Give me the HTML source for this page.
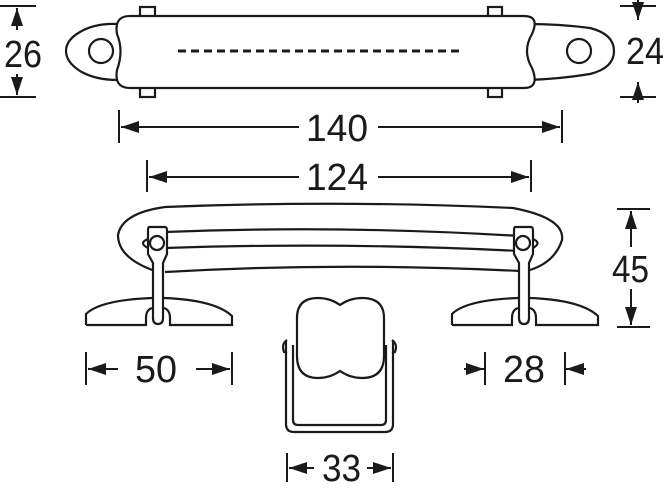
<!DOCTYPE html>
<html><head><meta charset="utf-8"><style>
html,body{margin:0;padding:0;background:#fff;}
svg{display:block;}
text{font-family:"Liberation Sans",sans-serif;font-size:38px;fill:#1a1a1a;}
</style></head><body>
<svg width="668" height="490" viewBox="0 0 668 490" xmlns="http://www.w3.org/2000/svg">
<defs>
<marker id="a" viewBox="0 0 18 12" refX="18" refY="6" markerWidth="18" markerHeight="12" orient="auto-start-reverse" markerUnits="userSpaceOnUse"><path d="M0,0 L18,6 L0,12z" fill="#1a1a1a"/></marker>
</defs>
<g fill="none" stroke="#1a1a1a" stroke-width="2.2">
<!-- top view -->
<rect x="140" y="7" width="15" height="10" fill="#fff"/>
<rect x="140" y="87" width="15" height="10" fill="#fff"/>
<rect x="488" y="7" width="14" height="10" fill="#fff"/>
<rect x="488" y="87" width="14" height="10" fill="#fff"/>
<path d="M118,24 Q95,23 80,32 Q66,40 66,51 Q66,62 80,71 Q95,80 118,80"/>
<path d="M527,24 Q560,24 590,28 Q614,34 614,51 Q614,68 590,74 Q560,79 527,80"/>
<path d="M130,16 L524,16 Q540,16 532,34 Q522,51 532,68 Q540,88 524,88 L130,88 Q114,88 117,70 Q124,51 117,34 Q114,16 130,16Z" fill="#fff"/>
<circle cx="101" cy="51" r="12"/>
<circle cx="579" cy="51" r="12"/>
<line x1="178" y1="51" x2="462" y2="51" stroke-width="3" stroke-dasharray="8,5"/>
<!-- side view -->
<path d="M165,207 Q340,200 513,208 Q565,218 562,240 Q555,262 530,270" />
<path d="M155,271 Q118,258 118,235 Q122,213 165,207"/>
<path d="M165,232 Q340,225 520,236"/>
<path d="M165,248 Q340,242 520,251"/>
<path d="M165,272 Q340,262 520,271"/>
<path d="M86,325 L86,314 Q100,300 152,298 M164,298 Q215,300 232,316 L232,325 L170,325 L170,318 Q170,310 164,308 M152,308 Q146,310 146,318 L146,325 L86,325"/>
<path d="M452,325 L452,314 Q466,300 518,298 M530,298 Q581,300 598,316 L598,325 L536,325 L536,318 Q536,310 530,308 M518,308 Q512,310 512,318 L512,325 L452,325"/>
<path d="M149,227 L165,227 Q167,227 167,231 L167,254 L163,263 L163,318 Q163,324 158,324 Q153,324 153,318 L153,263 L148,254 L148,231 Q148,227 149,227Z" fill="#fff"/>
<path d="M515,227 L531,227 Q533,227 533,231 L533,254 L529,263 L529,318 Q529,324 524,324 Q519,324 519,318 L519,263 L514,254 L514,231 Q514,227 515,227Z" fill="#fff"/>
<circle cx="157" cy="243" r="7" fill="#fff"/>
<circle cx="523" cy="243" r="7" fill="#fff"/>
<path d="M148,239 Q138,243 148,248"/><path d="M533,239 Q542,243 533,248"/>
<!-- front view -->
<path d="M286,340 L286,424 Q286,432 294,432 L385,432 Q393,432 393,424 L393,340"/>
<path d="M293,345 L293,420 Q293,425 298,425 L381,425 Q386,425 386,420 L386,345"/>
<path d="M287,340 Q281,344 284,352 L287,353 M392,340 Q398,344 395,352 L392,353"/>
<path d="M297,318 Q297,298 318,298 Q330,298 340,305 Q350,298 362,298 Q384,298 384,318 L384,356 Q384,378 362,378 Q350,378 340,371 Q330,378 318,378 Q297,378 297,356 Z" fill="#fff"/>
</g>
<!-- dims -->
<g stroke="#1a1a1a" stroke-width="2" fill="none">
<line x1="0" y1="6" x2="36" y2="6"/><line x1="0" y1="97" x2="36" y2="97"/>
<line x1="17" y1="30" x2="17" y2="8" marker-end="url(#a)"/>
<line x1="17" y1="74" x2="17" y2="95" marker-end="url(#a)"/>
<line x1="620" y1="6" x2="656" y2="6"/><line x1="620" y1="97" x2="656" y2="97"/>
<line x1="638" y1="0" x2="638" y2="20" marker-end="url(#a)"/>
<line x1="638" y1="103" x2="638" y2="82" marker-end="url(#a)"/>
<line x1="119" y1="110" x2="119" y2="143"/><line x1="562" y1="110" x2="562" y2="143"/>
<line x1="299" y1="127" x2="121" y2="127" marker-end="url(#a)"/>
<line x1="378" y1="127" x2="560" y2="127" marker-end="url(#a)"/>
<line x1="147" y1="160" x2="147" y2="192"/><line x1="531" y1="160" x2="531" y2="192"/>
<line x1="299" y1="177" x2="149" y2="177" marker-end="url(#a)"/>
<line x1="378" y1="177" x2="529" y2="177" marker-end="url(#a)"/>
<line x1="617" y1="209" x2="650" y2="209"/><line x1="617" y1="327" x2="650" y2="327"/>
<line x1="631" y1="247" x2="631" y2="211" marker-end="url(#a)"/>
<line x1="631" y1="289" x2="631" y2="325" marker-end="url(#a)"/>
<line x1="86" y1="352" x2="86" y2="385"/><line x1="232" y1="352" x2="232" y2="385"/>
<line x1="118" y1="369" x2="88" y2="369" marker-end="url(#a)"/>
<line x1="196" y1="369" x2="230" y2="369" marker-end="url(#a)"/>
<line x1="485" y1="352" x2="485" y2="385"/><line x1="565" y1="352" x2="565" y2="385"/>
<line x1="464" y1="369" x2="484" y2="369" marker-end="url(#a)"/>
<line x1="586" y1="369" x2="566" y2="369" marker-end="url(#a)"/>
<line x1="287" y1="453" x2="287" y2="482"/><line x1="393" y1="453" x2="393" y2="482"/>
<line x1="314" y1="468" x2="289" y2="468" marker-end="url(#a)"/>
<line x1="367" y1="468" x2="391" y2="468" marker-end="url(#a)"/>
</g>
<text x="4" y="67" textLength="38" lengthAdjust="spacingAndGlyphs">26</text>
<text x="626" y="64" textLength="38" lengthAdjust="spacingAndGlyphs">24</text>
<text x="306" y="141" textLength="62" lengthAdjust="spacingAndGlyphs">140</text>
<text x="306" y="190" textLength="62" lengthAdjust="spacingAndGlyphs">124</text>
<text x="612" y="282" textLength="37" lengthAdjust="spacingAndGlyphs">45</text>
<text x="135" y="382" textLength="42" lengthAdjust="spacingAndGlyphs">50</text>
<text x="503" y="382" textLength="42" lengthAdjust="spacingAndGlyphs">28</text>
<text x="322" y="481" textLength="39" lengthAdjust="spacingAndGlyphs">33</text>
</svg>
</body></html>
